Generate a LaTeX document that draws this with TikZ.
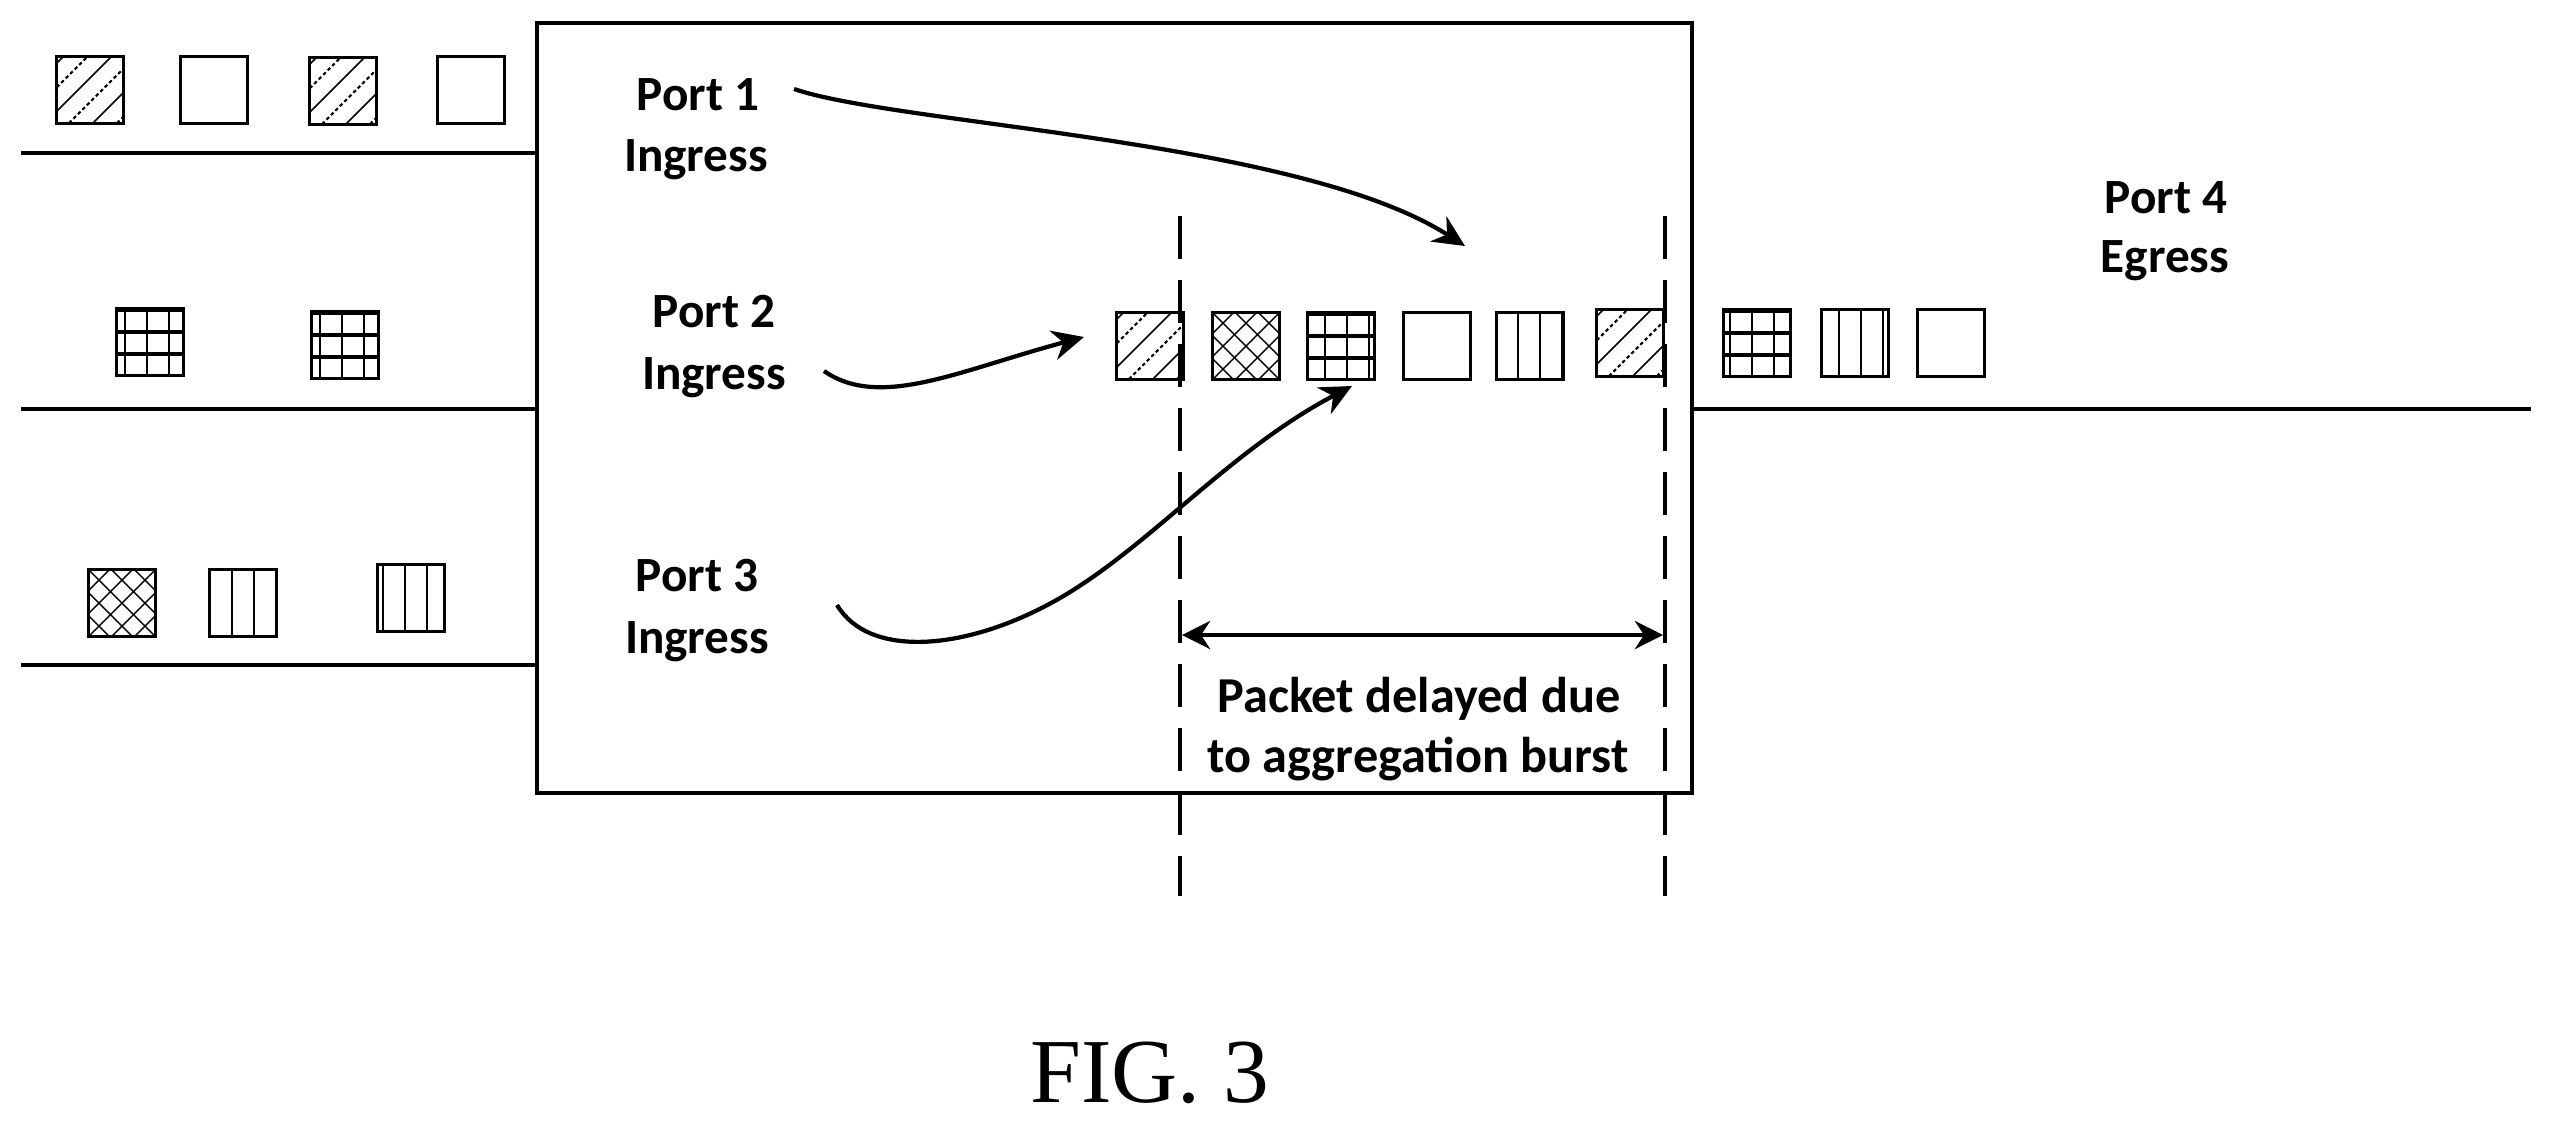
\documentclass[tikz,border=0pt]{standalone}
\usepackage{fontspec}
\setmainfont{Carlito}
\newfontfamily\figfont{Liberation Serif}
\usetikzlibrary{arrows.meta}

\tikzset{
    wire/.style={line width=1.4pt},
    flow/.style={line width=1.2pt, -{Stealth[length=9pt,width=8.5pt]}},
    guide/.style={line width=1.1pt, dash pattern=on 12.2pt off 6pt},
    lbl/.style={anchor=base, inner sep=0pt, font=\fontsize{14}{16}\selectfont\bfseries},
    lblwide/.style={lbl, font=\fontsize{14.3}{16}\selectfont\bfseries},
    pkt/.style={draw, line width=0.9pt, minimum size=0.67cm, inner sep=0pt},
    pkthatch/.style={pkt, path picture={
        \coordinate (pc) at (path picture bounding box.center);
        \foreach \o in {-60,-12,36}
            \draw[line width=0.45pt] ([shift={(\o+50,-50)}]pc) -- ([shift={(\o-50,50)}]pc);
        \foreach \o in {-36,12,60}
            \draw[line width=0.6pt, dash pattern=on 1pt off 0.8pt] ([shift={(\o+50,-50)}]pc) -- ([shift={(\o-50,50)}]pc);
    }},
    pktcross/.style={pkt, path picture={
        \coordinate (pc) at (path picture bounding box.center);
        \foreach \o in {-69,-46,...,69} {
            \draw[line width=0.4pt] ([shift={(\o+50,-50)}]pc) -- ([shift={(\o-50,50)}]pc);
            \draw[line width=0.4pt] ([shift={(\o-50,-50)}]pc) -- ([shift={(\o+50,50)}]pc);
        }
    }},
    pktvert/.style={pkt, path picture={
        \coordinate (pc) at (path picture bounding box.center);
        \foreach \o in {-44,-22,0,22,44}
            \draw[line width=0.6pt] ([shift={(\o+#1,-50)}]pc) -- ([shift={(\o+#1,50)}]pc);
    }},
    pktgrid/.style={pkt, path picture={
        \coordinate (pc) at (path picture bounding box.center);
        \foreach \o in {-44,-22,0,22,44}
            \draw[line width=0.6pt] ([shift={(\o+#1,-50)}]pc) -- ([shift={(\o+#1,50)}]pc);
        \foreach \o in {-32,-10,12}
            \draw[line width=0.9pt] ([shift={(-50,\o)}]pc) -- ([shift={(50,\o)}]pc);
    }},
}

\begin{document}
\begin{tikzpicture}[x=0.01cm, y=-0.01cm]
    \useasboundingbox (0,0) rectangle (2550,1123);

    % Switch box
    \node[draw, line width=1.2pt, minimum width=11.55cm, minimum height=7.7cm] (switch) at (1114.5,408) {};

    % Ingress and egress wires
    \coordinate (in1) at (21,153);
    \coordinate (in2) at (21,409);
    \coordinate (in3) at (21,665);
    \coordinate (out4) at (2531,409);
    \draw[wire] (in1) -- (in1 -| switch.west);
    \draw[wire] (in2) -- (in2 -| switch.west);
    \draw[wire] (in3) -- (in3 -| switch.west);
    \draw[wire] (switch.east |- out4) -- (out4);

    % Packets on port 1
    \node[pkthatch] (pa1) at (90,90) {};
    \node[pkt] (pa2) at (214,90) {};
    \node[pkthatch] (pa3) at (343,91) {};
    \node[pkt] (pa4) at (471,90) {};

    % Packets on port 2
    \node[pktgrid=-3] (pb1) at (150,342) {};
    \node[pktgrid=-3] (pb2) at (345,345) {};

    % Packets on port 3
    \node[pktcross] (pc1) at (122,603) {};
    \node[pktvert=11] (pc2) at (243,603) {};
    \node[pktvert=-6] (pc3) at (411,598) {};

    % Packets inside the switch
    \node[pkthatch] (sw1) at (1150,346) {};
    \node[pktcross] (sw2) at (1246,346) {};
    \node[pktgrid=6] (sw3) at (1341,346) {};
    \node[pkt] (sw4) at (1437,346) {};
    \node[pktvert=10] (sw5) at (1530,346) {};
    \node[pkthatch] (sw6) at (1630,343) {};

    % Packets on port 4
    \node[pktgrid=-5] (pd1) at (1757,343) {};
    \node[pktvert=6] (pd2) at (1855,343) {};
    \node[pkt] (pd3) at (1951,343) {};

    % Port labels
    \node[lbl] (port1) at (698,110) {Port 1};
    \node[lbl] (ing1) at (696,171) {Ingress};
    \node[lbl] (port2) at (714,327) {Port 2};
    \node[lbl] (ing2) at (714,389) {Ingress};
    \node[lbl] (port3) at (697,591) {Port 3};
    \node[lbl] (ing3) at (697,653) {Ingress};
    \node[lbl] (port4) at (2166,213) {Port 4};
    \node[lbl] (egr4) at (2165,272) {Egress};

    % Guides around the delayed burst
    \coordinate (g1top) at (1180,216);
    \coordinate (g1bot) at (1180,896);
    \coordinate (g2top) at (1665,216);
    \coordinate (g2bot) at (1665,896);
    \draw[guide] (g1top) -- (g1bot);
    \draw[guide] (g2top) -- (g2bot);

    % Delay span
    \coordinate (spanl) at (1182,635);
    \coordinate (spanr) at (1663,635);
    \draw[line width=1.3pt, {Stealth[length=8pt,width=8pt]}-{Stealth[length=8pt,width=8pt]}] (spanl) -- (spanr);
    \node[lblwide] (delay1) at (1419,712) {Packet delayed due};
    \node[lblwide] (delay2) at (1418,772) {to aggregation burst};

    % Flows into the egress queue
    \coordinate (f1a) at (794,89);
    \coordinate (f1b) at (1465,246);
    \coordinate (f2a) at (824,371);
    \coordinate (f2b) at (1084,337);
    \coordinate (f3a) at (837,605);
    \coordinate (f3m) at (1060,598);
    \coordinate (f3b) at (1352,386);
    \draw[flow] (f1a) .. controls (900,125) and (1300,140) .. (f1b);
    \draw[flow] (f2a) .. controls (880,410) and (960,370) .. (f2b);
    \draw[flow] (f3a) .. controls (870,660) and (970,650) .. (f3m)
                      .. controls (1150,546) and (1230,450) .. (f3b);

    % Caption
    \node[anchor=base, inner sep=0pt, font=\figfont\fontsize{26}{30}\selectfont] (caption) at (1150,1102) {FIG. 3};
\end{tikzpicture}
\end{document}
